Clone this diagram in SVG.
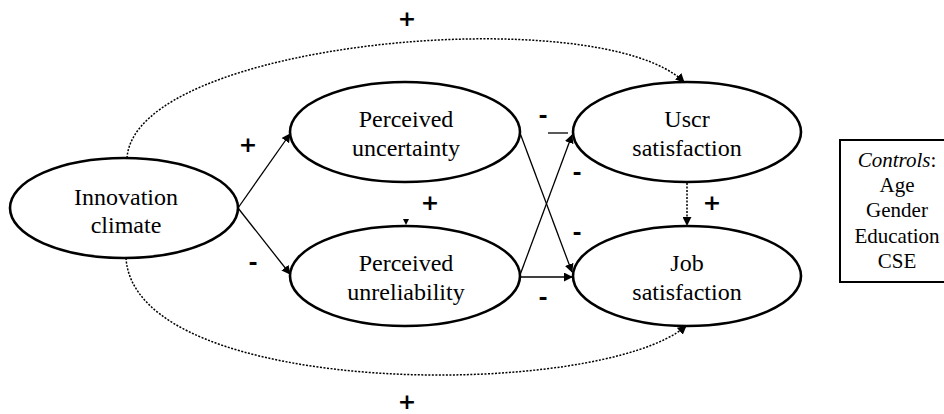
<svg xmlns="http://www.w3.org/2000/svg" width="944" height="414" viewBox="0 0 944 414">
<defs>
<style>
.node ellipse{fill:#fff;stroke:#000;stroke-width:2.6}
.lbl{font-family:"Liberation Serif","Times New Roman",serif;font-size:24px;fill:#000;text-anchor:middle}
.ctl{font-family:"Liberation Serif","Times New Roman",serif;font-size:21px;fill:#000;text-anchor:middle}
.sign{font-family:"DejaVu Sans",sans-serif;font-size:22px;font-weight:bold;fill:#000;text-anchor:middle}
.solid{fill:none;stroke:#000;stroke-width:1.3}
.dot{fill:none;stroke:#000;stroke-width:1.5;stroke-dasharray:2 1.5}
</style>
<marker id="ah" viewBox="0 0 10 10" refX="9" refY="5" markerWidth="9" markerHeight="9" markerUnits="userSpaceOnUse" orient="auto">
<path d="M0,0 L10,5 L0,10 z" fill="#000"/>
</marker>
</defs>
<rect width="944" height="414" fill="#fff"/>
<g id="connectors">
<path class="dot" d="M127,158 C135,40 600,0 684,82" marker-end="url(#ah)"/>
<path class="dot" d="M126,258 C135,400 600,400 686,326" marker-end="url(#ah)"/>
<line class="solid" x1="238" y1="208" x2="290" y2="134" marker-end="url(#ah)"/>
<line class="solid" x1="238" y1="208" x2="290" y2="274" marker-end="url(#ah)"/>
<line class="solid" x1="520" y1="133" x2="572" y2="272" marker-end="url(#ah)"/>
<line class="solid" x1="520" y1="275" x2="572" y2="135" marker-end="url(#ah)"/>
<line class="solid" x1="548" y1="133" x2="568" y2="133"/>
<line class="solid" x1="520" y1="277" x2="572" y2="277" marker-end="url(#ah)"/>
<line class="dot" x1="687" y1="183" x2="687" y2="225" marker-end="url(#ah)"/>
<path d="M403,219 L409,219 L406,225 z" fill="#000"/>
</g>
<g id="innovation-climate" class="node">
<ellipse cx="124" cy="208" rx="114" ry="50"/>
<text class="lbl" x="126" y="205">Innovation</text>
<text class="lbl" x="126" y="233">climate</text>
</g>
<g id="perceived-uncertainty" class="node">
<ellipse cx="405" cy="132" rx="115" ry="50"/>
<text class="lbl" x="406" y="127">Perceived</text>
<text class="lbl" x="406" y="156">uncertainty</text>
</g>
<g id="perceived-unreliability" class="node">
<ellipse cx="405" cy="276" rx="115" ry="50"/>
<text class="lbl" x="406" y="271">Perceived</text>
<text class="lbl" x="406" y="300">unreliability</text>
</g>
<g id="user-satisfaction" class="node">
<ellipse cx="687" cy="132" rx="114" ry="50"/>
<text class="lbl" x="687" y="127">Uscr</text>
<text class="lbl" x="687" y="156">satisfaction</text>
</g>
<g id="job-satisfaction" class="node">
<ellipse cx="687" cy="276" rx="114" ry="50"/>
<text class="lbl" x="687" y="271">Job</text>
<text class="lbl" x="687" y="300">satisfaction</text>
</g>
<g id="controls">
<rect x="840" y="140" width="115" height="142" fill="#fff" stroke="#000" stroke-width="2"/>
<text class="ctl" x="897" y="167"><tspan font-style="italic">Controls</tspan>:</text>
<text class="ctl" x="897" y="192">Age</text>
<text class="ctl" x="897" y="217">Gender</text>
<text class="ctl" x="897" y="243">Education</text>
<text class="ctl" x="897" y="268">CSE</text>
</g>
<g id="signs">
<text class="sign" x="407" y="26">+</text>
<text class="sign" x="407" y="409">+</text>
<text class="sign" x="248" y="152">+</text>
<text class="sign" x="253" y="270">-</text>
<text class="sign" x="430" y="210">+</text>
<text class="sign" x="543" y="123">-</text>
<text class="sign" x="577" y="180">-</text>
<text class="sign" x="577" y="240">-</text>
<text class="sign" x="543" y="305">-</text>
<text class="sign" x="712" y="210">+</text>
</g>
</svg>
